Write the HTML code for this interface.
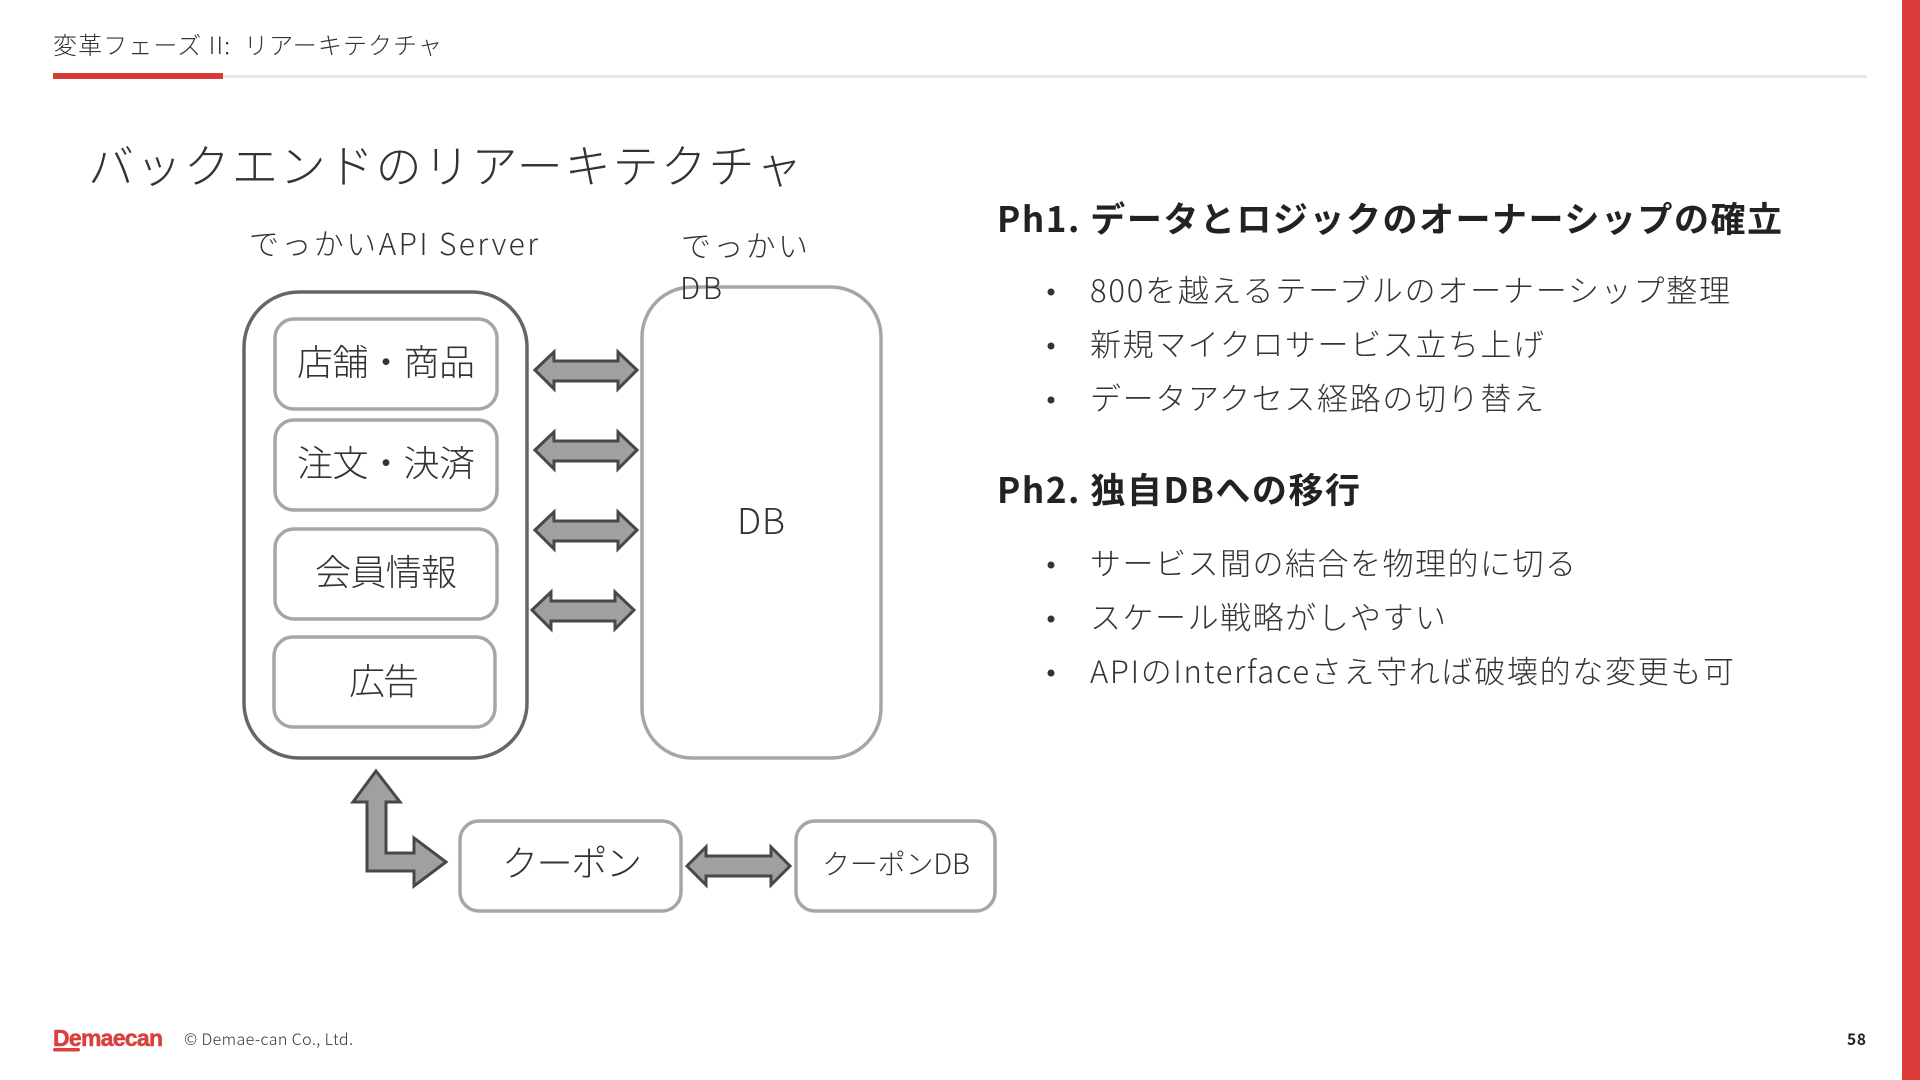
<!DOCTYPE html>
<html lang="ja"><head><meta charset="utf-8"><title>バックエンドのリアーキテクチャ</title>
<style>
html,body{margin:0;padding:0;background:#fff;width:1920px;height:1080px;overflow:hidden}
svg{display:block}
text{font-family:"Noto Sans CJK JP","Liberation Sans",sans-serif;fill:#333;font-weight:300}
.b{font-weight:700;fill:#222}
.box{fill:#fff;stroke:#a6a6a6;stroke-width:3.5}
.ar{fill:#a0a0a0;stroke:#484848;stroke-width:3;stroke-linejoin:miter}
</style></head><body>
<svg width="1920" height="1080" viewBox="0 0 1920 1080" xmlns="http://www.w3.org/2000/svg">
<rect x="1902" y="0" width="18" height="1080" fill="#dc3a38"/>
<rect x="53" y="75" width="1814" height="3" fill="#e8e8e8"/>
<rect x="53" y="73" width="170" height="6" fill="#d93a38"/>
<text x="53" y="54" font-size="24" textLength="389" xml:space="preserve">変革フェーズ II:  リアーキテクチャ</text>
<text x="88" y="183" font-size="46" textLength="714">バックエンドのリアーキテクチャ</text>
<text x="249" y="255" font-size="30" textLength="289">でっかいAPI Server</text>
<text x="681" y="257" font-size="30" textLength="127">でっかい</text>

<rect x="244" y="292" width="283" height="466" rx="55" fill="#fff" stroke="#666" stroke-width="3.5"/>
<rect x="642" y="287" width="239" height="471" rx="50" class="box"/>
<text x="680" y="299" font-size="30" textLength="42">DB</text>
<rect x="275" y="319" width="222" height="90" rx="19" class="box"/>
<rect x="275" y="420" width="222" height="90" rx="19" class="box"/>
<rect x="275" y="529" width="222" height="90" rx="19" class="box"/>
<rect x="274" y="637" width="221" height="90" rx="19" class="box"/>
<text x="297" y="375" font-size="36" textLength="178">店舗・商品</text>
<text x="297" y="476" font-size="36" textLength="178">注文・決済</text>
<text x="315" y="585" font-size="36" textLength="142">会員情報</text>
<text x="349" y="694" font-size="36" textLength="70">広告</text>
<text x="737" y="534" font-size="36" textLength="48">DB</text>

<polygon class="ar" points="535,370 554,352 554,361 618,361 618,352 637,370 618,389 618,381 554,381 554,389"/>
<polygon class="ar" points="535,450 554,432 554,441 618,441 618,432 637,450 618,469 618,461 554,461 554,469"/>
<polygon class="ar" points="535,530 554,512 554,521 618,521 618,512 637,530 618,549 618,541 554,541 554,549"/>
<polygon class="ar" points="532,610 551,592 551,601 615,601 615,592 634,610 615,629 615,621 551,621 551,629"/>
<polygon class="ar" points="376,771 400,802 386,802 386,853 414,853 414,838 446,862 414,886 414,871 367,871 367,802 353,802"/>
<polygon class="ar" points="687,866 706,847 706,856 771,856 771,847 790,866 771,885 771,876 706,876 706,885"/>

<rect x="460" y="821" width="221" height="90" rx="19" class="box"/>
<rect x="796" y="821" width="199" height="90" rx="19" class="box"/>
<text x="502" y="876" font-size="36" textLength="140">クーポン</text>
<text x="822" y="874" font-size="28" textLength="148">クーポンDB</text>

<text class="b" x="997" y="232" font-size="35" textLength="785">Ph1. データとロジックのオーナーシップの確立</text>
<text class="b" x="997" y="503" font-size="35" textLength="363">Ph2. 独自DBへの移行</text>

<g fill="#333">
<circle cx="1051" cy="292" r="3.5"/><circle cx="1051" cy="346" r="3.5"/><circle cx="1051" cy="400" r="3.5"/>
<circle cx="1051" cy="565" r="3.5"/><circle cx="1051" cy="619" r="3.5"/><circle cx="1051" cy="673" r="3.5"/>
</g>
<text x="1090" y="302" font-size="31" textLength="640">800を越えるテーブルのオーナーシップ整理</text>
<text x="1090" y="356" font-size="31" textLength="454">新規マイクロサービス立ち上げ</text>
<text x="1090" y="410" font-size="31" textLength="454">データアクセス経路の切り替え</text>
<text x="1090" y="575" font-size="31" textLength="486">サービス間の結合を物理的に切る</text>
<text x="1090" y="629" font-size="31" textLength="356">スケール戦略がしやすい</text>
<text x="1090" y="683" font-size="31" textLength="644">APIのInterfaceさえ守れば破壊的な変更も可</text>

<text x="53" y="1046" font-size="23" textLength="110" style="font-family:'Liberation Sans',sans-serif;font-weight:700;fill:#d9403d;stroke:#d9403d;stroke-width:.5">Demaecan</text>
<rect x="53" y="1048" width="27" height="3.5" rx="1.7" fill="#d9403d"/>
<text x="184" y="1045" font-size="16" textLength="169">© Demae-can Co., Ltd.</text>
<text class="b" x="1847" y="1045" font-size="15.5" textLength="19">58</text>
</svg>
</body></html>
